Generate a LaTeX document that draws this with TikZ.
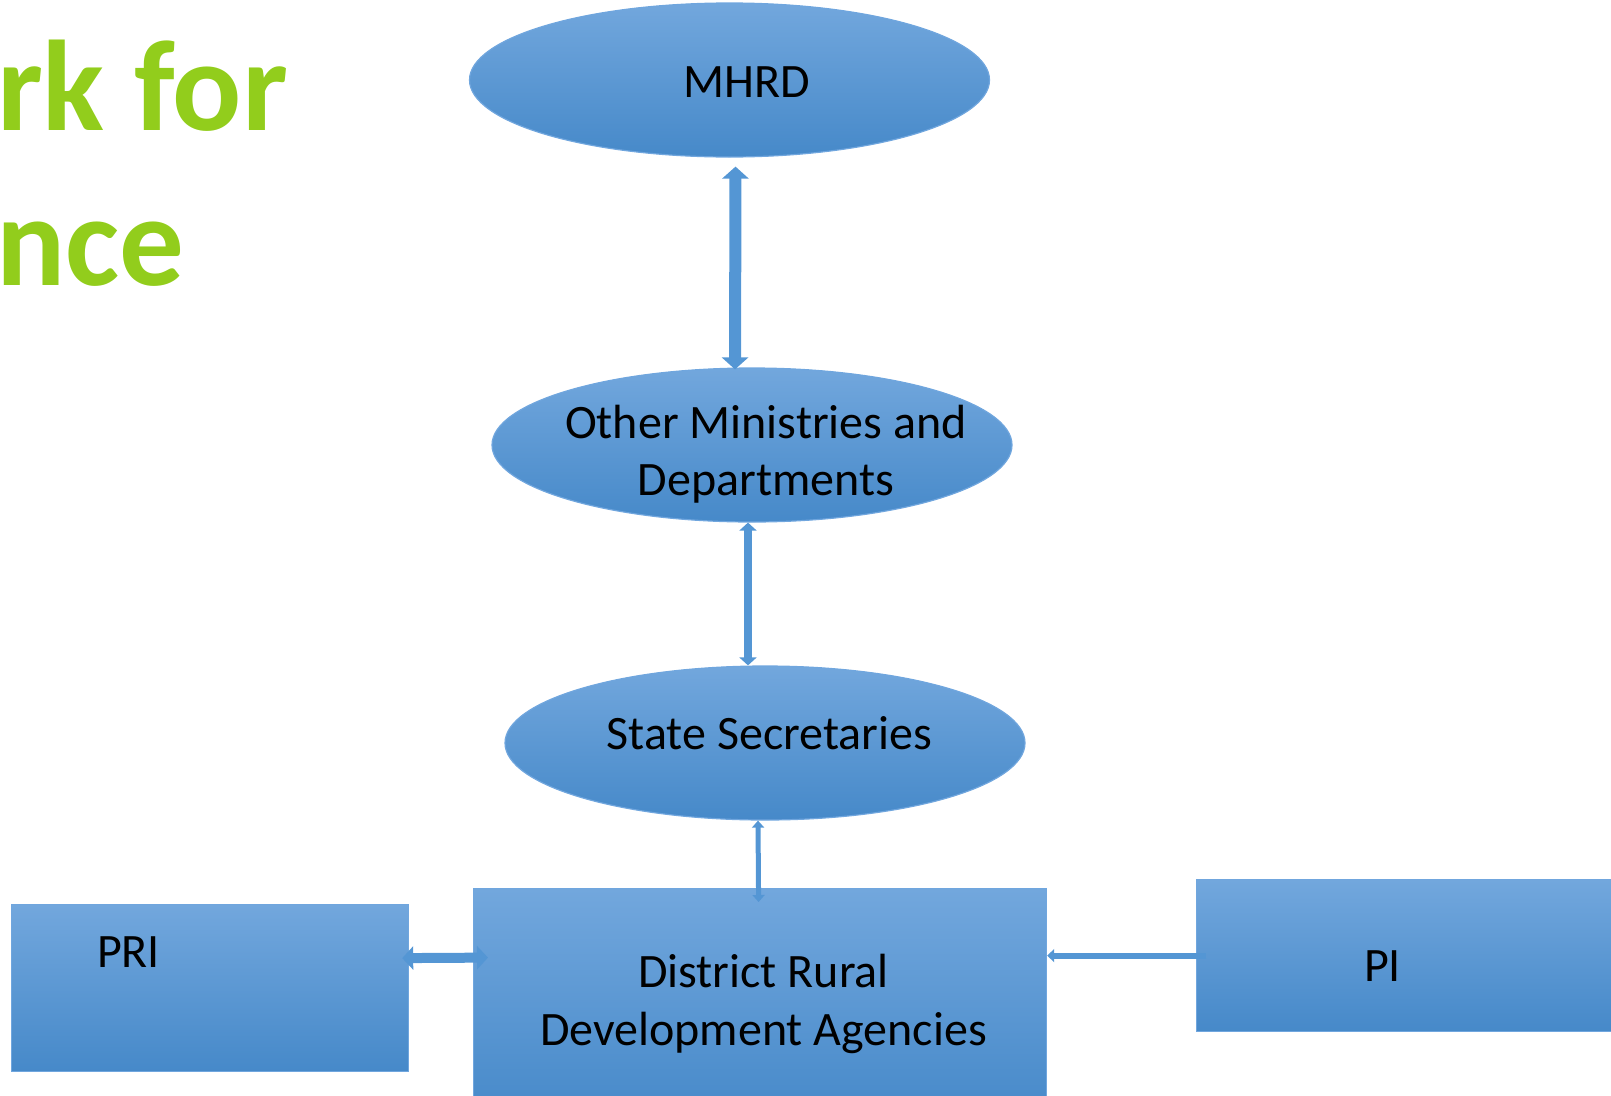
\documentclass[tikz,border=0pt]{standalone}
\usepackage{fontspec}
\setmainfont{Carlito}
\usepackage{tikz}
\usetikzlibrary{shapes.geometric,arrows.meta}
\definecolor{ppgreen}{RGB}{146,205,28}
\definecolor{fillTop}{RGB}{114,167,221}
\definecolor{fillMid}{RGB}{88,155,216}
\definecolor{fillBot}{RGB}{70,137,201}
\definecolor{rim}{RGB}{112,166,222}
\definecolor{arrowblue}{RGB}{84,150,212}
\tikzset{
    oval/.style={%ellipse format
        ellipse, minimum width=520pt, minimum height=154pt, inner sep=0pt,
        draw=rim, line width=1.2pt,
        top color=fillTop, middle color=fillMid, bottom color=fillBot},
    box/.style={%rectangle format
        rectangle, anchor=north west, inner sep=0pt,
        draw=rim, line width=1.2pt,
        top color=fillTop, middle color=fillMid, bottom color=fillBot},
    txt/.style={font=\fontsize{48}{57.5}\selectfont, align=center, inner sep=0pt, text=black},
    title/.style={font=\fontsize{129}{155}\selectfont\bfseries, text=ppgreen, inner sep=0pt, anchor=base west},
    link/.style n args={3}{draw=arrowblue, line width=#1, line cap=butt,
        arrows={Triangle[width=#2,length=#3]-Triangle[width=#2,length=#3]}},
    feed/.style n args={3}{draw=arrowblue, line width=#1, line cap=butt,
        arrows={-Triangle[width=#2,length=#3]}}
    }

\begin{document}
\begin{tikzpicture}[x=1pt,y=-1pt]
\useasboundingbox (0,0) rectangle (1611,1095);
% heading, cut at the left edge
\node[title] (headA) at (-3,130) {rk for};
\node[title] (headB) at (-4,285) {nce};
% shapes
\node[oval] (mhrd) at (729.5,80) {};
\node[oval] (other) at (752,445) {};
\node[oval] (state) at (765,743) {};
\node[box,minimum width=573pt,minimum height=230pt] (drda) at (473,888) {};
\node[box,minimum width=397pt,minimum height=167pt] (pri) at (11,904) {};
\node[box,minimum width=440pt,minimum height=152pt] (pi) at (1196,879) {};
% texts
\node[txt,anchor=base] (mhrdtext) at (746.5,97.5) {MHRD};
\node[txt] (othertext) at (766,454) {Other Ministries and\\Departments};
\node[txt,anchor=base] (statetext) at (769.5,749) {State Secretaries};
\node[txt] (drdatext) at (763.5,1004) {District Rural\\Development Agencies};
\node[txt,anchor=base] (pritext) at (128.5,967.5) {PRI};
\node[txt,anchor=base] (pitext) at (1382.5,981.5) {PI};
% connectors
\draw[link={12pt}{26pt}{12pt}] ([shift={(6pt,-9pt)}]mhrd.south) -- ([shift={(-17pt,-2pt)}]other.north);
\draw[link={8pt}{17pt}{8pt}] ([xshift=-4pt]other.south) -- ([xshift=-17pt]state.north);
\draw[link={5pt}{12pt}{7pt}] ([xshift=-7pt]state.south) -- ([shift={(-1.5pt,-14pt)}]drda.north);
\draw[link={10pt}{23pt}{11pt}] ([shift={(-7pt,30pt)}]pri.east) -- ([shift={(15pt,46pt)}]drda.west);
\draw[feed={6pt}{13pt}{7pt}] ([xshift=10pt]pi.west) -- (pi.west -| drda.east);
\end{tikzpicture}
\end{document}
